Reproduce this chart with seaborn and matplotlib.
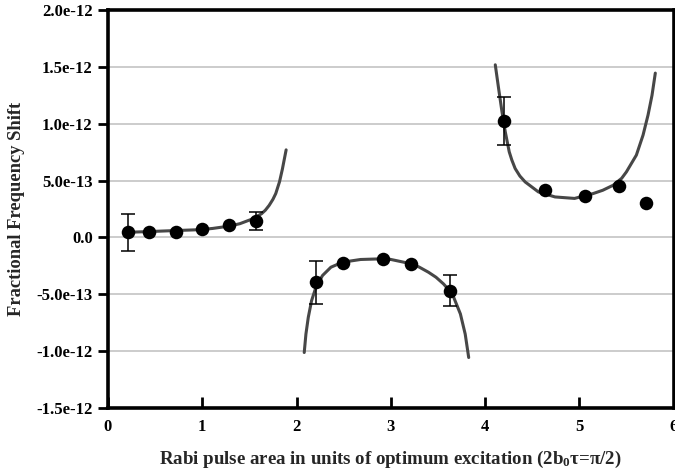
import numpy as np
import pandas as pd
import matplotlib
matplotlib.use("Agg")
import matplotlib.pyplot as plt
import seaborn as sns

# ---- data (y in units of 1e-12) ----
pts1_x = [0.21, 0.43, 0.72, 1.00, 1.28, 1.57]
pts1_y = [0.044, 0.050, 0.052, 0.070, 0.106, 0.146]
pts1_err = [0.163, 0.0, 0.0, 0.0, 0.0, 0.078]

pts2_x = [2.21, 2.49, 2.92, 3.21, 3.63]
pts2_y = [-0.394, -0.227, -0.188, -0.232, -0.468]
pts2_err = [0.188, 0.0, 0.0, 0.0, 0.138]

pts3_x = [4.20, 4.64, 5.06, 5.42, 5.71]
pts3_y = [1.024, 0.415, 0.365, 0.450, 0.303]
pts3_err = [0.213, 0.0, 0.0, 0.0, 0.0]

curve1_x = [0.20, 0.45, 0.70, 0.97, 1.11, 1.29, 1.40, 1.54, 1.63, 1.67, 1.71, 1.75, 1.78, 1.82, 1.85, 1.89]
curve1_y = [0.045, 0.052, 0.060, 0.068, 0.079, 0.100, 0.121, 0.165, 0.209, 0.240, 0.282, 0.335, 0.386, 0.490, 0.600, 0.770]

curve2_x = [2.082, 2.10, 2.125, 2.16, 2.206, 2.276, 2.365, 2.487, 2.68, 2.91, 2.98, 3.19, 3.30, 3.40, 3.48, 3.56, 3.62, 3.668, 3.739, 3.79, 3.827]
curve2_y = [-1.012, -0.85, -0.703, -0.556, -0.438, -0.335, -0.262, -0.218, -0.194, -0.188, -0.190, -0.227, -0.260, -0.306, -0.350, -0.409, -0.465, -0.527, -0.673, -0.85, -1.056]

curve3_x = [4.109, 4.144, 4.18, 4.215, 4.257, 4.285, 4.32, 4.37, 4.426, 4.567, 4.743, 4.95, 5.148, 5.25, 5.36, 5.45, 5.50, 5.606, 5.677, 5.73, 5.772, 5.807]
curve3_y = [1.518, 1.312, 1.106, 0.929, 0.753, 0.680, 0.606, 0.540, 0.488, 0.400, 0.356, 0.343, 0.386, 0.415, 0.459, 0.520, 0.576, 0.724, 0.900, 1.077, 1.250, 1.445]

y_ticks = [-1.5, -1.0, -0.5, 0.0, 0.5, 1.0, 1.5, 2.0]
y_tick_labels = ["-1.5e-12", "-1.0e-12", "-5.0e-13", "0.0", "5.0e-13", "1.0e-12", "1.5e-12", "2.0e-12"]
x_ticks = [0, 1, 2, 3, 4, 5, 6]
x_tick_labels = ["0", "1", "2", "3", "4", "5", "6"]

x_label = r"Rabi pulse area in units of optimum excitation (2b$_{\mathregular{0}}$τ=π/2)"
y_label = "Fractional Frequency Shift"

# ---- style ----
sns.set_theme(style="white")
plt.rcParams["font.family"] = ["Liberation Serif", "DejaVu Serif"]
plt.rcParams["mathtext.fontset"] = "custom"
plt.rcParams["mathtext.rm"] = "Liberation Serif:bold"
plt.rcParams["mathtext.it"] = "Liberation Serif:bold"
plt.rcParams["mathtext.bf"] = "Liberation Serif:bold"

fig = plt.figure(figsize=(6.75, 4.74), dpi=100)
ax = fig.add_axes([108 / 675, 66 / 474, 565.5 / 675, 398 / 474])

ax.set_xlim(0, 6)
ax.set_ylim(-1.5, 2.0)

for yt in y_ticks:
    ax.axhline(yt, color="#c8c8c8", lw=1.3, zorder=0)

curve_color = "#474747"
for cx, cy in [(curve1_x, curve1_y), (curve2_x, curve2_y), (curve3_x, curve3_y)]:
    df = pd.DataFrame({"x": cx, "y": cy})
    sns.lineplot(data=df, x="x", y="y", ax=ax, color=curve_color, lw=2.2,
                 sort=False, estimator=None, zorder=2)
for ln in ax.get_lines():
    ln.set_solid_joinstyle("round")
    ln.set_solid_capstyle("round")

for px, py, pe in [(pts1_x, pts1_y, pts1_err), (pts2_x, pts2_y, pts2_err), (pts3_x, pts3_y, pts3_err)]:
    px = np.array(px); py = np.array(py); pe = np.array(pe)
    m = pe > 0
    ax.errorbar(px[m], py[m], yerr=pe[m], fmt="none", ecolor="black",
                elinewidth=1.1, capsize=5, capthick=1.1, zorder=3)
    df = pd.DataFrame({"x": px, "y": py})
    sns.scatterplot(data=df, x="x", y="y", ax=ax, color="black", s=95,
                    edgecolor="black", linewidth=0, zorder=4)

ax.set_yticks(y_ticks)
ax.set_yticklabels(y_tick_labels)
ax.set_xticks(x_ticks)
ax.set_xticklabels(x_tick_labels)

for lab in ax.get_xticklabels() + ax.get_yticklabels():
    lab.set_fontweight("bold")
    lab.set_fontsize(12)

ax.tick_params(axis="y", direction="out", length=7, width=2, pad=4, left=True, colors="black")
ax.tick_params(axis="x", direction="in", length=8, width=2, pad=8, bottom=True, colors="black")

for sp in ax.spines.values():
    sp.set_visible(True)
    sp.set_color("black")
    sp.set_linewidth(2.6)

ax.set_xlabel(x_label, fontsize=13.6, fontweight="bold", labelpad=10)
ax.set_ylabel(y_label, fontsize=13.3, fontweight="bold", labelpad=8)

fig.savefig("out.png", dpi=100)
